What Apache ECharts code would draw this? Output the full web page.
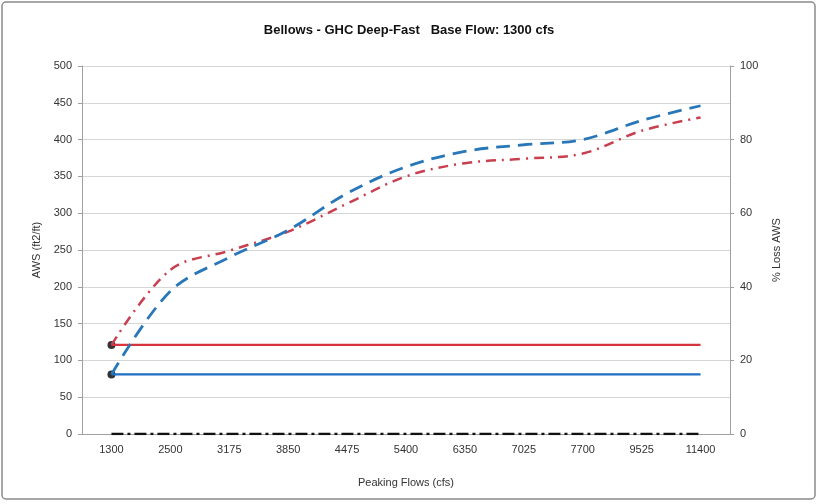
<!DOCTYPE html>
<html>
<head>
<meta charset="utf-8">
<script src="https://cdn.jsdelivr.net/npm/echarts@6/dist/echarts.min.js"></script>
<style>
html,body{margin:0;padding:0;background:#fff;}
#chart{width:818px;height:504px;}
</style>
</head>
<body>
<div id="chart"></div>
<script>
const categories = ['1300','2500','3175','3850','4475','5400','6350','7025','7700','9525','11400'];
const awsCurve   = [81, 194, 240, 277, 327, 363, 384, 393, 400, 426, 446];
const lossCurve  = [121, 223, 249, 275, 313, 350, 368, 374, 381, 412, 430];
const baseAws    = [81, 81, 81, 81, 81, 81, 81, 81, 81, 81, 81];
const baseLoss   = [121, 121, 121, 121, 121, 121, 121, 121, 121, 121, 121];
const zeroLoss   = [0, 0, 0, 0, 0, 0, 0, 0, 0, 0, 0];
const basePoints = [[0, 81], [0, 121]];
const leftTicks  = {min: 0, max: 500, interval: 50};
const rightTicks = {min: 0, max: 100, interval: 20};

const font = 'Liberation Sans, Arial, sans-serif';
const chart = echarts.init(document.getElementById('chart'), null, {renderer: 'canvas'});
chart.setOption({
  animation: false,
  backgroundColor: '#fff',
  title: {
    text: 'Bellows - GHC Deep-Fast   Base Flow: 1300 cfs',
    left: 'center', top: 19,
    textStyle: {fontFamily: font, fontSize: 13, fontWeight: 'bold', color: '#111'}
  },
  graphic: [{
    type: 'rect', silent: true, z: -1,
    shape: {x: 2, y: 2, width: 813, height: 497, r: 4},
    style: {fill: 'none', stroke: '#8a8a8a', lineWidth: 1.5}
  }],
  grid: {left: 82, right: 88, top: 66, bottom: 70},
  xAxis: {
    type: 'category', data: categories, boundaryGap: true,
    name: 'Peaking Flows (cfs)', nameLocation: 'middle', nameGap: 43,
    nameTextStyle: {fontFamily: font, fontSize: 11, color: '#333'},
    axisLine: {lineStyle: {color: '#a0a0a0'}},
    axisTick: {show: false},
    axisLabel: {fontFamily: font, fontSize: 11, color: '#333', margin: 10}
  },
  yAxis: [{
    type: 'value', min: leftTicks.min, max: leftTicks.max, interval: leftTicks.interval,
    name: 'AWS (ft2/ft)', nameLocation: 'middle', nameGap: 39, nameRotate: 90,
    nameTextStyle: {fontFamily: font, fontSize: 11, color: '#333'},
    axisLine: {show: true, lineStyle: {color: '#a0a0a0'}},
    axisTick: {show: true, length: 4, lineStyle: {color: '#a0a0a0'}},
    axisLabel: {fontFamily: font, fontSize: 11, color: '#333', margin: 10},
    splitLine: {lineStyle: {color: '#d6d6d6'}}
  }, {
    type: 'value', min: rightTicks.min, max: rightTicks.max, interval: rightTicks.interval,
    position: 'right',
    name: '% Loss AWS', nameLocation: 'middle', nameGap: 41, nameRotate: 90,
    nameTextStyle: {fontFamily: font, fontSize: 11, color: '#333'},
    axisLine: {show: true, lineStyle: {color: '#a0a0a0'}},
    axisTick: {show: true, length: 4, lineStyle: {color: '#a0a0a0'}},
    axisLabel: {fontFamily: font, fontSize: 11, color: '#333', margin: 10},
    splitLine: {show: false}
  }],
  series: [{
    type: 'line', data: baseLoss, yAxisIndex: 0, showSymbol: false,
    lineStyle: {color: '#d8343d', width: 2.2}
  }, {
    type: 'line', data: baseAws, yAxisIndex: 0, showSymbol: false,
    lineStyle: {color: '#1f6fc4', width: 2.2}
  }, {
    type: 'line', data: lossCurve, yAxisIndex: 0, showSymbol: false, smooth: 0.35,
    lineStyle: {color: '#c8404f', width: 2.5, type: [10, 6, 2, 6]}
  }, {
    type: 'line', data: awsCurve, yAxisIndex: 0, showSymbol: false, smooth: 0.35,
    lineStyle: {color: '#2877b8', width: 2.8, type: [14, 8]}
  }, {
    type: 'line', data: zeroLoss, yAxisIndex: 1, showSymbol: false,
    lineStyle: {color: '#111', width: 2.5, type: [12, 4, 3, 4]}
  }, {
    type: 'scatter', data: basePoints, yAxisIndex: 0, symbolSize: 8,
    itemStyle: {color: '#000'}
  }]
});
</script>
</body>
</html>
